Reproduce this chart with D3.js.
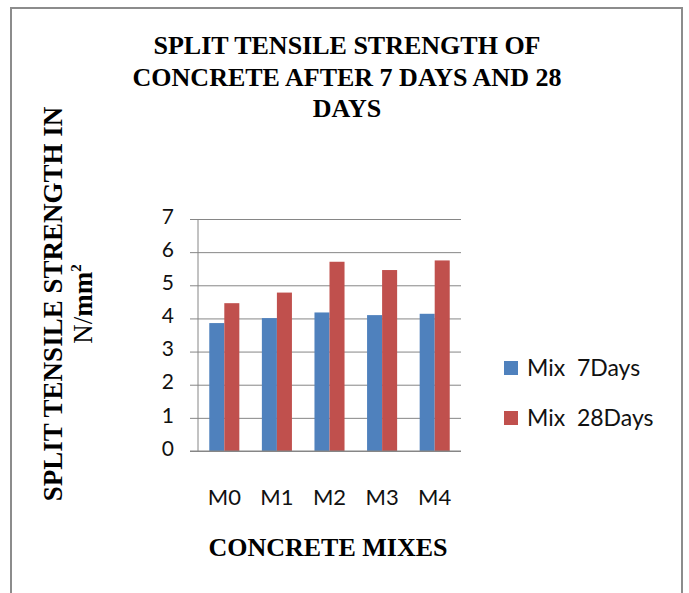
<!DOCTYPE html>
<html>
<head>
<meta charset="utf-8">
<script src="https://cdn.jsdelivr.net/npm/d3@7"></script>
<style>
  body { margin: 0; background: #fff; }
  svg { display: block; }
  .serif { font-family: "Liberation Serif", "Times New Roman", serif; font-weight: bold; }
  .sans { font-family: Lato, "Open Sans", sans-serif; fill: #111; }
</style>
</head>
<body>
<div id="app"></div>
<script>
const d3 = window.d3;

const mixes = ["M0", "M1", "M2", "M3", "M4"];
const series = ["Mix  7Days", "Mix  28Days"];
const days7 = [3.86, 4.01, 4.18, 4.10, 4.14];
const days28 = [4.46, 4.78, 5.71, 5.46, 5.75];
const yTicks = [0, 1, 2, 3, 4, 5, 6, 7];
const colors = ["#4F81BD", "#C0504D"];

const width = 689;
const height = 593;
const plot = { left: 198, right: 461, top: 219, bottom: 451 };

const svg = d3.select("#app")
  .append("svg")
  .attr("width", width)
  .attr("height", height);

// frame round the chart (open at the bottom)
svg.append("path")
  .attr("d", `M11,${height} V8 H682 V${height}`)
  .attr("fill", "none")
  .attr("stroke", "#8c8c8c")
  .attr("stroke-width", 2);

const x0 = d3.scaleBand()
  .domain(mixes)
  .range([plot.left, plot.right])
  .paddingInner(0.4286)
  .paddingOuter(0.2143);

const x1 = d3.scaleBand()
  .domain(series)
  .range([0, x0.bandwidth()]);

const y = d3.scaleLinear()
  .domain([0, 7])
  .range([plot.bottom, plot.top]);

// gridlines + tick labels
const yAxis = svg.append("g")
  .attr("transform", `translate(${plot.left - 8},0)`)
  .call(
    d3.axisLeft(y)
      .tickValues(yTicks)
      .tickFormat(d3.format("d"))
      .tickSize(-(plot.right - plot.left + 8))
      .tickPadding(16)
  );
yAxis.select(".domain").remove();
yAxis.selectAll(".tick line").attr("stroke", "#868686");
yAxis.selectAll(".tick text")
  .attr("class", "sans")
  .attr("dy", "0.2em")
  .style("font-size", "21px")
  .attr("fill", "#222");

svg.append("line")
  .attr("x1", plot.left).attr("x2", plot.left)
  .attr("y1", y(7)).attr("y2", y(0))
  .attr("stroke", "#868686");

const rows = mixes.map((m, i) => ({ mix: m, values: [days7[i], days28[i]] }));

svg.append("g")
  .selectAll("g")
  .data(rows)
  .join("g")
  .attr("transform", (d) => `translate(${x0(d.mix)},0)`)
  .selectAll("rect")
  .data((d) => d.values.map((v, j) => ({ key: series[j], value: v, j })))
  .join("rect")
  .attr("x", (d) => x1(d.key))
  .attr("y", (d) => y(d.value))
  .attr("width", x1.bandwidth())
  .attr("height", (d) => y(0) - y(d.value))
  .attr("fill", (d) => colors[d.j]);

// redraw the zero line over the bars
svg.append("line")
  .attr("x1", plot.left - 8).attr("x2", plot.right)
  .attr("y1", y(0)).attr("y2", y(0))
  .attr("stroke", "#868686");

// category labels
const xAxis = svg.append("g")
  .attr("transform", `translate(0,${plot.bottom})`)
  .call(d3.axisBottom(x0).tickSize(0).tickPadding(38));
xAxis.select(".domain").remove();
xAxis.selectAll(".tick text")
  .attr("class", "sans")
  .style("font-size", "22px")
  .attr("fill", "#222");

// title
const title = svg.append("text")
  .attr("class", "serif")
  .attr("text-anchor", "middle")
  .style("font-size", "26px");
["SPLIT TENSILE STRENGTH OF", "CONCRETE AFTER 7 DAYS AND 28", "DAYS"].forEach((t, i) => {
  title.append("tspan").attr("x", 347).attr("y", 54 + i * 31.5).text(t);
});

// y axis title
const yTitle = svg.append("g").attr("transform", "translate(62,304) rotate(-90)");
yTitle.append("text")
  .attr("class", "serif")
  .attr("text-anchor", "middle")
  .style("font-size", "27px")
  .text("SPLIT TENSILE STRENGTH IN");
const unit = yTitle.append("text")
  .attr("class", "serif")
  .attr("text-anchor", "middle")
  .attr("y", 30)
  .style("font-size", "27px");
unit.append("tspan").style("font-weight", "normal").text("N/");
unit.append("tspan").text("mm");
unit.append("tspan").attr("dy", -11).style("font-size", "15px").text("2");

// x axis title
svg.append("text")
  .attr("class", "serif")
  .attr("text-anchor", "middle")
  .attr("x", 328)
  .attr("y", 556)
  .style("font-size", "26px")
  .text("CONCRETE MIXES");

// legend
const legend = svg.append("g")
  .selectAll("g")
  .data(series)
  .join("g")
  .attr("transform", (d, i) => `translate(504,${361 + i * 50})`);
legend.append("rect")
  .attr("width", 14)
  .attr("height", 14)
  .attr("fill", (d, i) => colors[i]);
legend.append("text")
  .attr("class", "sans")
  .attr("x", 23)
  .attr("y", 15)
  .style("font-size", "23px")
  .style("white-space", "pre")
  .attr("fill", "#222")
  .text((d) => d);
</script>
</body>
</html>
